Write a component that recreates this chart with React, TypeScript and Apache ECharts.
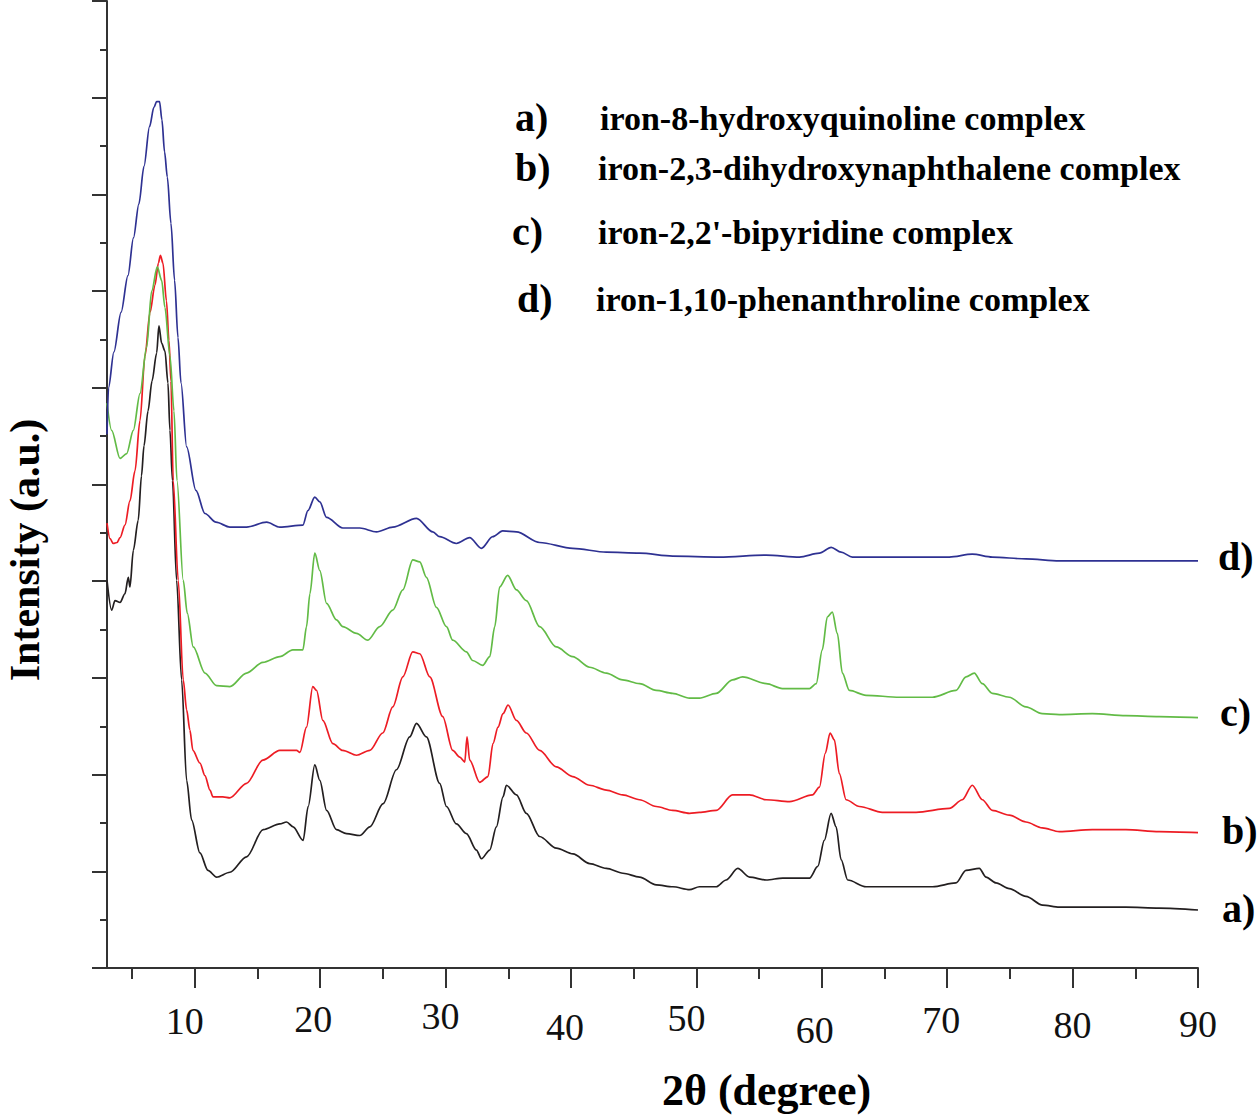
import React, { useEffect, useRef } from "react";
import * as echarts from "echarts";

// 2θ tick values
const angleMajorTicks = [10, 20, 30, 40, 50, 60, 70, 80, 90];
const angleMinorTicks = [5, 15, 25, 35, 45, 55, 65, 75, 85];

// curve labels and legend texts
const curveTags = ["a)", "b)", "c)", "d)"];
const compoundNames = [
  "iron-8-hydroxyquinoline complex",
  "iron-2,3-dihydroxynaphthalene complex",
  "iron-2,2'-bipyridine complex",
  "iron-1,10-phenanthroline complex",
];
const curveColors = ["#231F20", "#ED1C24", "#62BB46", "#2E3192"];

// a) iron-8-hydroxyquinoline complex  [2θ, intensity]
const curveA: [number, number][] = [
  [3.0, 401], [3.37, 370], [3.64, 380], [4.04, 378], [4.43, 387], [4.7, 404], [4.83, 394],
  [5.1, 432], [5.49, 463], [5.75, 509], [5.95, 540], [6.27, 576], [6.59, 607], [6.96, 636],
  [7.14, 664], [7.36, 646], [7.62, 638], [7.86, 605], [8.02, 556], [8.22, 504], [8.55, 401],
  [8.95, 298], [9.35, 194], [9.75, 153], [10.41, 119], [11.05, 101], [11.74, 94], [12.8, 99],
  [14.13, 115], [15.45, 143], [16.78, 149], [17.32, 151], [17.84, 146], [18.64, 132],
  [19.04, 167], [19.57, 210], [19.97, 194], [20.51, 163], [21.3, 143], [22.1, 139],
  [23.16, 137], [23.96, 146], [25.02, 170], [26.08, 205], [27.14, 239], [27.68, 253],
  [28.47, 239], [29.53, 191], [30.07, 167], [30.86, 149], [31.66, 139], [32.46, 122],
  [32.86, 113], [33.52, 122], [34.05, 146], [34.58, 177], [34.85, 189], [35.65, 179],
  [36.44, 160], [37.5, 136], [38.83, 124], [40.16, 118], [41.49, 108], [42.82, 103],
  [44.14, 98], [45.47, 94], [46.8, 86], [48.12, 84], [49.45, 81], [50.24, 84], [51.58, 84],
  [52.37, 91], [53.3, 103], [54.24, 94], [55.57, 91], [56.89, 93], [59.02, 93], [59.68, 105],
  [60.2, 132], [60.74, 160], [61.14, 146], [61.54, 112], [62.07, 91], [63.53, 84], [66.19, 84],
  [68.84, 84], [70.7, 88], [71.5, 101], [72.56, 103], [73.1, 94], [73.89, 88], [74.95, 82],
  [76.28, 74], [77.61, 65], [78.94, 63], [81.59, 63], [84.25, 63], [86.9, 62], [90.0, 60],
];

// b) iron-2,3-dihydroxynaphthalene complex
const curveB: [number, number][] = [
  [3.0, 460], [3.24, 444], [3.5, 439], [3.8, 440], [4.04, 445], [4.43, 458], [4.83, 483],
  [5.23, 514], [5.63, 566], [6.03, 633], [6.43, 678], [6.82, 706], [7.1, 729], [7.26, 737],
  [7.46, 729], [7.74, 690], [7.94, 649], [8.1, 607], [8.28, 504], [8.68, 401], [9.08, 298],
  [9.35, 267], [9.61, 246], [9.85, 225], [10.41, 212], [10.81, 199], [11.21, 184], [11.45, 177],
  [12.24, 177], [12.8, 176], [14.13, 191], [15.43, 215], [16.78, 225], [18.12, 225],
  [18.38, 223], [18.91, 249], [19.41, 291], [19.71, 287], [20.21, 256], [21.01, 232],
  [21.8, 225], [22.9, 220], [23.96, 225], [24.99, 243], [25.79, 270], [26.59, 301],
  [27.38, 327], [27.94, 325], [28.74, 301], [29.77, 260], [30.57, 225], [31.13, 218],
  [31.53, 213], [31.71, 239], [31.92, 215], [32.72, 192], [33.38, 198], [33.78, 232],
  [34.18, 249], [34.58, 263], [34.98, 272], [35.65, 256], [36.44, 243], [37.5, 225],
  [38.83, 208], [40.13, 198], [41.49, 189], [42.82, 184], [44.12, 179], [45.47, 174],
  [46.8, 167], [48.1, 163], [49.45, 160], [50.24, 161], [51.58, 163], [52.88, 179],
  [54.24, 179], [55.57, 174], [57.43, 172], [59.26, 179], [59.81, 187], [60.28, 222],
  [60.66, 243], [61.0, 236], [61.4, 201], [61.94, 174], [63.0, 167], [64.83, 161],
  [67.52, 161], [70.17, 165], [71.21, 174], [72.0, 189], [72.8, 174], [73.6, 163],
  [74.95, 158], [76.28, 151], [77.58, 145], [78.94, 141], [81.57, 143], [84.25, 143],
  [86.9, 141], [90.0, 140],
];

// c) iron-2,2'-bipyridine complex
const curveC: [number, number][] = [
  [3.0, 584], [3.37, 556], [4.04, 527], [4.57, 532], [5.1, 556], [5.63, 594], [6.16, 642],
  [6.56, 700], [7.01, 725], [7.36, 711], [7.62, 683], [8.02, 633], [8.34, 576], [8.58, 504],
  [9.08, 401], [9.4, 367], [9.88, 332], [10.81, 305], [11.74, 292], [12.8, 291], [14.13, 305],
  [15.43, 316], [16.78, 322], [17.82, 329], [18.62, 329], [18.91, 353], [19.18, 387],
  [19.57, 429], [19.97, 411], [20.51, 377], [21.3, 360], [21.8, 353], [22.9, 346],
  [23.8, 339], [24.75, 353], [25.79, 370], [26.59, 391], [27.38, 422], [27.94, 420],
  [28.47, 404], [29.27, 373], [30.07, 353], [30.57, 339], [31.66, 327], [32.16, 318],
  [32.96, 313], [33.52, 322], [33.92, 353], [34.31, 394], [34.95, 406], [35.65, 391],
  [36.44, 380], [37.5, 353], [38.83, 332], [40.13, 322], [41.49, 311], [42.82, 305],
  [44.12, 298], [45.47, 294], [46.8, 287], [48.1, 284], [49.45, 279], [50.24, 279],
  [51.58, 284], [52.88, 298], [53.68, 301], [55.57, 294], [56.86, 289], [59.02, 289],
  [59.55, 294], [60.04, 329], [60.44, 363], [60.84, 368], [61.24, 346], [61.64, 305],
  [62.2, 287], [63.53, 282], [66.19, 280], [68.82, 280], [70.7, 287], [71.5, 301],
  [72.16, 305], [72.8, 294], [73.6, 284], [74.95, 280], [76.28, 270], [77.58, 263],
  [78.94, 262], [81.57, 263], [84.25, 261], [86.9, 260], [90.0, 259],
];

// d) iron-1,10-phenanthroline complex
const curveD: [number, number][] = [
  [3.0, 552], [3.12, 600], [3.55, 637], [4.12, 678], [4.67, 716], [5.11, 755], [5.54, 790],
  [5.95, 829], [6.39, 870], [6.74, 890], [6.96, 896], [7.19, 896], [7.38, 877], [7.59, 844],
  [7.81, 818], [8.1, 770], [8.39, 711], [8.66, 652], [8.9, 605], [9.35, 539], [10.09, 494],
  [10.81, 470], [11.69, 461], [12.8, 456], [14.13, 456], [15.73, 461], [16.78, 456],
  [18.62, 458], [19.02, 473], [19.57, 487], [19.97, 482], [20.51, 466], [21.8, 455],
  [23.16, 455], [24.49, 451], [25.79, 456], [27.68, 465], [28.98, 451], [29.53, 446],
  [30.86, 439], [31.92, 445], [32.86, 434], [33.76, 446], [34.55, 452], [35.65, 451],
  [37.5, 440], [40.13, 434], [42.82, 430], [45.47, 429], [48.1, 426], [51.84, 425],
  [55.57, 427], [58.22, 425], [59.81, 429], [60.75, 435], [61.54, 430], [62.44, 425],
  [64.83, 425], [67.52, 425], [70.17, 425], [72.0, 428], [73.6, 425], [76.28, 423],
  [78.94, 421], [82.92, 421], [86.9, 421], [90.0, 421],
];

const curves = [curveA, curveB, curveC, curveD];

const SERIF = '"Liberation Serif", "Times New Roman", serif';

// per-label nudges of the scanned tick labels: [top padding, right padding]
const tickLabelNudge: Record<number, [number, number]> = {
  10: [5, 20],
  20: [3, 14],
  30: [0, 10],
  40: [11, 12],
  50: [2, 20],
  60: [14, 14],
  70: [4, 12],
  80: [9, 0],
  90: [8, 0],
};

export default function App() {
  const ref = useRef<HTMLDivElement>(null);

  useEffect(() => {
    if (!ref.current) return;
    const chart = echarts.init(ref.current, null, { renderer: "svg" });

    const legendRows = [
      { tagX: 515, textX: 600, y: 117 },
      { tagX: 515, textX: 598, y: 167 },
      { tagX: 512, textX: 598, y: 231 },
      { tagX: 517, textX: 596, y: 298 },
    ];
    const endLabels = [
      { x: 1222, y: 908 },
      { x: 1222, y: 830 },
      { x: 1220, y: 712 },
      { x: 1218, y: 556 },
    ];

    const graphics: any[] = [];
    curveTags.forEach((tag, i) => {
      const r = legendRows[i];
      graphics.push({
        type: "text",
        x: r.tagX,
        y: r.y,
        style: {
          text: tag,
          fill: "#000",
          font: `bold 40px ${SERIF}`,
          textAlign: "left",
          textVerticalAlign: "middle",
        },
      });
      graphics.push({
        type: "text",
        x: r.textX,
        y: r.y + 1,
        style: {
          text: compoundNames[i],
          fill: "#000",
          font: `bold 34px ${SERIF}`,
          textAlign: "left",
          textVerticalAlign: "middle",
        },
      });
      const e = endLabels[i];
      graphics.push({
        type: "text",
        x: e.x,
        y: e.y,
        style: {
          text: tag,
          fill: "#000",
          font: `bold 40px ${SERIF}`,
          textAlign: "left",
          textVerticalAlign: "middle",
        },
      });
    });
    graphics.push({
      type: "text",
      x: 662,
      y: 1090,
      style: {
        text: "2θ (degree)",
        fill: "#000",
        font: `bold 44px ${SERIF}`,
        textAlign: "left",
        textVerticalAlign: "middle",
      },
    });
    graphics.push({
      type: "text",
      x: 25,
      y: 550,
      rotation: Math.PI / 2,
      style: {
        text: "Intensity (a.u.)",
        fill: "#000",
        font: `bold 42px ${SERIF}`,
        textAlign: "center",
        textVerticalAlign: "middle",
      },
    });

    const axisLineStyle = { color: "#333", width: 2 };

    const rich: Record<string, any> = {};
    angleMajorTicks.forEach((v) => {
      const n = tickLabelNudge[v] || [0, 0];
      rich["t" + v] = {
        fontSize: 38,
        fontFamily: SERIF,
        color: "#111",
        padding: [n[0], n[1], 0, 0],
      };
    });

    chart.setOption({
      animation: false,
      backgroundColor: "#fff",
      grid: { left: 107, right: 62, top: 1, bottom: 147, containLabel: false },
      xAxis: [
        {
          type: "value",
          min: 3,
          max: 90,
          position: "bottom",
          axisLine: { show: true, onZero: false, lineStyle: axisLineStyle },
          axisTick: {
            show: true,
            customValues: angleMajorTicks,
            length: 20,
            lineStyle: axisLineStyle,
          },
          axisLabel: {
            show: true,
            customValues: angleMajorTicks,
            margin: 29,
            color: "#111",
            fontSize: 38,
            fontFamily: SERIF,
            formatter: (v: number) => `{t${v}|${v}}`,
            rich,
          },
          splitLine: { show: false },
        },
        {
          type: "value",
          min: 3,
          max: 90,
          position: "bottom",
          axisLine: { show: false, onZero: false },
          axisTick: {
            show: true,
            customValues: angleMinorTicks,
            length: 11,
            lineStyle: axisLineStyle,
          },
          axisLabel: { show: false },
          splitLine: { show: false },
        },
      ],
      yAxis: {
        type: "value",
        min: 0,
        max: 1000,
        interval: 100,
        axisLine: { show: true, onZero: false, lineStyle: axisLineStyle },
        axisTick: { show: true, length: 15, lineStyle: axisLineStyle },
        minorTick: { show: true, splitNumber: 2, length: 7, lineStyle: axisLineStyle },
        axisLabel: { show: false },
        splitLine: { show: false },
      },
      series: curves.map((data, i) => ({
        name: curveTags[i],
        type: "line",
        xAxisIndex: 0,
        data,
        showSymbol: false,
        symbol: "none",
        smooth: 0.3,
        smoothMonotone: "x",
        lineStyle: { color: curveColors[i], width: 1.7 },
        z: 2 + i,
      })),
      graphic: graphics,
    });

    return () => chart.dispose();
  }, []);

  return (
    <div
      ref={ref}
      style={{
        position: "absolute",
        left: 0,
        top: 0,
        width: 1260,
        height: 1115,
        background: "#fff",
      }}
    />
  );
}
